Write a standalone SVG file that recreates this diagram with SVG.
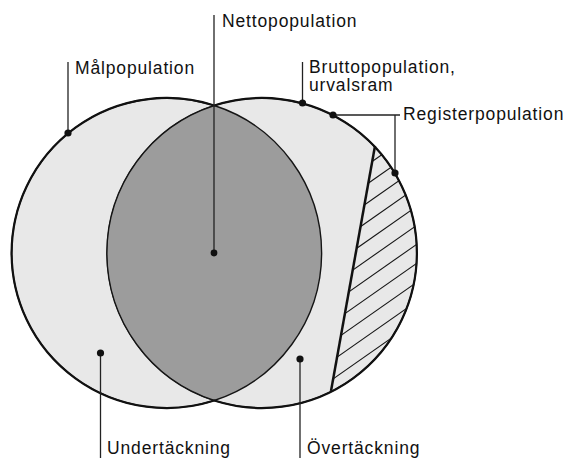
<svg xmlns="http://www.w3.org/2000/svg" width="565" height="458" viewBox="0 0 565 458">
  <style>
    .label { font-family: "Liberation Sans", Arial, Helvetica, sans-serif; font-size: 17.5px; letter-spacing: 0.85px; fill: #111; }
    .pop { fill: #e8e8e8; stroke: #151515; stroke-width: 1.4; }
    .rim { fill: none; stroke: #111; stroke-width: 2.2; }
    .lead { fill: none; stroke: #222; stroke-width: 1.3; }
    .dot { fill: #111; }
    .hatch { stroke: #151515; stroke-width: 1.1; }
  </style>
  <defs>
    <clipPath id="registerClip">
      <path d="M375,147 L331,391 A155,155 0 0 0 375,147 Z"/>
    </clipPath>
  </defs>
  <rect width="565" height="458" fill="#ffffff"/>

  <!-- target population (left circle) -->
  <g id="malpopulation">
    <circle class="pop" cx="166.5" cy="253" r="155"/>
  </g>

  <!-- gross population / sampling frame (right circle) -->
  <g id="bruttopopulation">
    <circle class="pop" cx="262" cy="253" r="155"/>
  </g>

  <!-- net population: overlap of both circles -->
  <g id="nettopopulation">
    <path d="M214.25,105.5 A155,155 0 0 1 214.25,400.5 A155,155 0 0 1 214.25,105.5 Z" fill="#9c9c9c" stroke="#151515" stroke-width="1.4"/>
  </g>

  <!-- register population: hatched segment on the right -->
  <g id="registerpopulation">
    <g clip-path="url(#registerClip)" class="hatch">
      <line x1="325" y1="156.5" x2="425" y2="86.5"/>
      <line x1="325" y1="175.5" x2="425" y2="105.5"/>
      <line x1="325" y1="194.5" x2="425" y2="124.5"/>
      <line x1="325" y1="213.5" x2="425" y2="143.5"/>
      <line x1="325" y1="232.5" x2="425" y2="162.5"/>
      <line x1="325" y1="251.5" x2="425" y2="181.5"/>
      <line x1="325" y1="270.5" x2="425" y2="200.5"/>
      <line x1="325" y1="289.5" x2="425" y2="219.5"/>
      <line x1="325" y1="308.5" x2="425" y2="238.5"/>
      <line x1="325" y1="327.5" x2="425" y2="257.5"/>
      <line x1="325" y1="346.5" x2="425" y2="276.5"/>
      <line x1="325" y1="365.5" x2="425" y2="295.5"/>
      <line x1="325" y1="384.5" x2="425" y2="314.5"/>
    </g>
    <line x1="375" y1="146" x2="331" y2="391" stroke="#111" stroke-width="2.5"/>
  </g>

  <!-- heavier outer outline of the union -->
  <path class="rim" d="M214.25,105.5 A155,155 0 1 0 214.25,400.5 A155,155 0 1 0 214.25,105.5 Z"/>

  <!-- leader lines with end dots -->
  <g id="connectors">
    <line class="lead" x1="68" y1="62" x2="68" y2="133"/>
    <circle class="dot" cx="68" cy="133" r="3.6"/>

    <line class="lead" x1="214" y1="15" x2="214" y2="253"/>
    <circle class="dot" cx="214" cy="253" r="3.4"/>

    <line class="lead" x1="302.5" y1="62" x2="302.5" y2="103"/>
    <circle class="dot" cx="302.5" cy="103" r="3.6"/>

    <polyline class="lead" points="333,115 400,115"/>
    <line class="lead" x1="395" y1="115" x2="395" y2="173"/>
    <circle class="dot" cx="333" cy="115" r="3.6"/>
    <circle class="dot" cx="395" cy="173" r="3.6"/>

    <line class="lead" x1="100.5" y1="353" x2="100.5" y2="458"/>
    <circle class="dot" cx="100.5" cy="353" r="3.6"/>

    <line class="lead" x1="300" y1="359" x2="300" y2="458"/>
    <circle class="dot" cx="300" cy="359" r="3.6"/>
  </g>

  <g id="labels">
    <text class="label" x="222" y="27">Nettopopulation</text>
    <text class="label" x="75" y="74">Målpopulation</text>
    <text class="label" x="309" y="73">Bruttopopulation,</text>
    <text class="label" x="309" y="91">urvalsram</text>
    <text class="label" x="403" y="120">Registerpopulation</text>
    <text class="label" x="107" y="454">Undertäckning</text>
    <text class="label" x="307" y="454">Övertäckning</text>
  </g>
</svg>
